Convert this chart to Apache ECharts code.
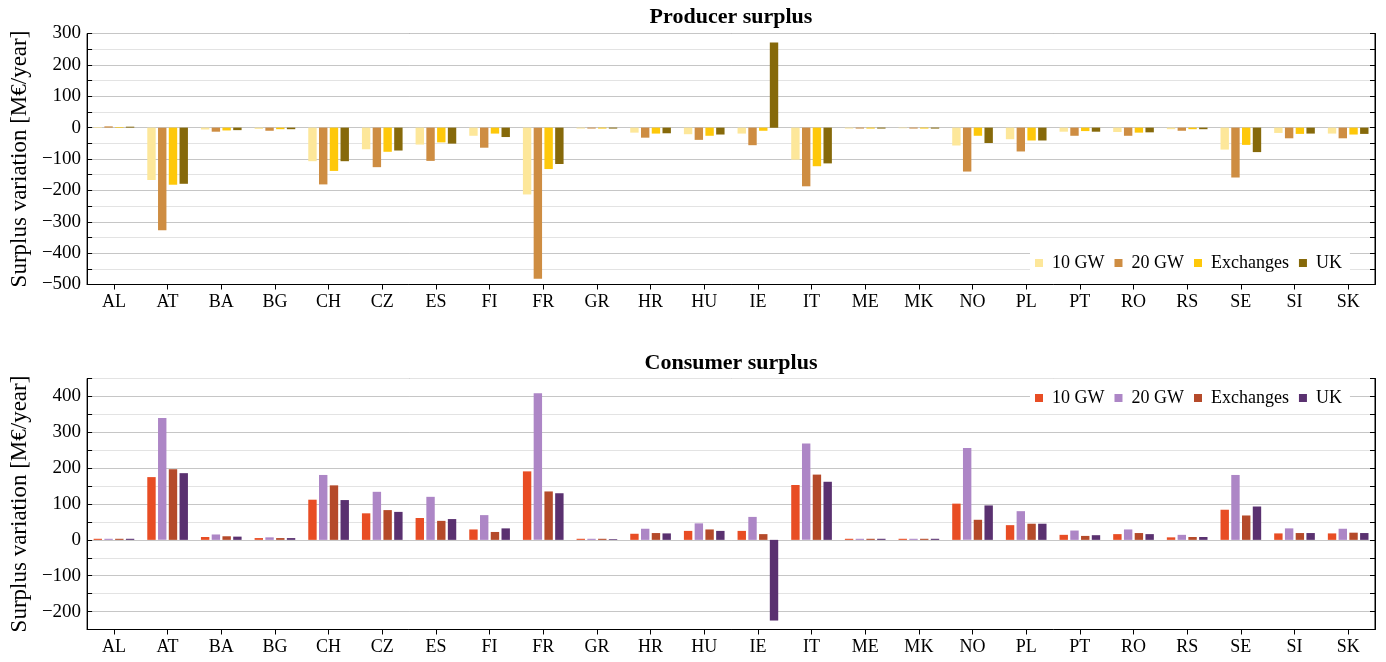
<!DOCTYPE html>
<html>
<head>
<meta charset="utf-8">
<title>Surplus variation</title>
<script src="https://cdn.jsdelivr.net/npm/echarts@6/dist/echarts.min.js"></script>
<style>
  html, body { margin: 0; padding: 0; background: #fff; }
  #chart { width: 1386px; height: 662px; }
</style>
</head>
<body>
<div id="chart"></div>
<script>
// Country codes along the horizontal axis
const countries = ['AL','AT','BA','BG','CH','CZ','ES','FI','FR','GR','HR','HU','IE','IT','ME','MK','NO','PL','PT','RO','RS','SE','SI','SK'];
const seriesNames = ['10 GW', '20 GW', 'Exchanges', 'UK'];

// Producer surplus variation [M€/year]
const producer10GW   = [2, -167, -6, -4, -107, -69, -54, -26, -213, -3, -16, -21, -19, -102, -3, -2, -57, -37, -13, -14, -5, -70, -17, -19];
const producer20GW   = [4, -327, -13, -10, -181, -126, -106, -64, -482, -3, -32, -39, -56, -187, -3, -3, -140, -76, -26, -26, -10, -159, -34, -34];
const producerExch   = [2, -182, -9, -5, -138, -77, -47, -19, -132, -3, -19, -26, -10, -123, -3, -3, -26, -41, -11, -16, -5, -55, -20, -22];
const producerUK     = [3, -179, -8, -5, -107, -73, -51, -30, -116, -3, -18, -22, 271, -114, -3, -3, -49, -41, -13, -15, -5, -78, -19, -20];

// Consumer surplus variation [M€/year]
const consumer10GW   = [3, 175, 8, 5, 112, 74, 61, 29, 191, 3, 17, 25, 25, 153, 3, 3, 101, 41, 14, 16, 7, 84, 18, 18];
const consumer20GW   = [3, 340, 15, 7, 181, 134, 120, 69, 409, 3, 31, 46, 64, 269, 3, 3, 256, 80, 26, 29, 14, 181, 32, 31];
const consumerExch   = [3, 197, 10, 5, 152, 83, 53, 22, 135, 3, 19, 29, 16, 182, 3, 3, 56, 45, 11, 19, 8, 68, 19, 20];
const consumerUK     = [3, 186, 9, 5, 111, 78, 58, 32, 130, 2, 18, 25, -225, 162, 3, 3, 96, 45, 13, 16, 8, 93, 19, 19];

// Axis ranges
const producerRange = { min: -500, max: 300 };
const consumerRange = { min: -250, max: 450 };

const producerColors = ['#FDE79A', '#CE8D42', '#FEC80A', '#86690A'];
const consumerColors = ['#E84D24', '#AD86C6', '#B54A2A', '#5A3170'];

const FONT = 'Liberation Serif';
const MAJOR = '#c6c6c6';
const MINOR = '#e3e3e3';

const chart = echarts.init(document.getElementById('chart'), null, { renderer: 'canvas' });

function fmtTick(v) {
  if (v % 100 !== 0) return '';
  return v < 0 ? '\u2212' + Math.abs(v) : String(v);
}

function yAxes(gridIndex, range) {
  // gridline colours alternate: hundreds darker, fifties lighter
  const firstIsMajor = range.min % 100 === 0;
  const colors = firstIsMajor ? [MAJOR, MINOR] : [MINOR, MAJOR];
  return [
    {
      type: 'value', gridIndex, position: 'left',
      min: range.min, max: range.max, interval: 50,
      name: 'Surplus variation [M\u20AC/year]',
      nameLocation: 'middle', nameGap: 56, nameRotate: 90,
      nameTextStyle: { fontFamily: FONT, fontSize: 23, color: '#000' },
      axisLine: { show: true, lineStyle: { color: '#000', width: 1 } },
      axisTick: { show: true, inside: true, length: 5, lineStyle: { color: '#000' } },
      axisLabel: { formatter: fmtTick, fontFamily: FONT, fontSize: 19, color: '#000', margin: 6 },
      splitLine: { show: true, lineStyle: { color: colors, width: 1 } }
    },
    {
      type: 'value', gridIndex, position: 'right',
      min: range.min, max: range.max, interval: 50,
      axisLine: { show: true, lineStyle: { color: '#000', width: 1 } },
      axisTick: { show: true, inside: true, length: 5, lineStyle: { color: '#000' } },
      axisLabel: { show: false },
      splitLine: { show: false }
    }
  ];
}

function xAxis(gridIndex) {
  return {
    type: 'category', gridIndex, data: countries,
    axisLine: { show: true, onZero: false, lineStyle: { color: '#000', width: 1 } },
    axisTick: { show: true, alignWithLabel: true, length: 5, lineStyle: { color: '#000' } },
    axisLabel: { fontFamily: FONT, fontSize: 18, color: '#000', margin: 9 },
    splitLine: { show: false }
  };
}

function bars(values, colors, xIdx, yIdx) {
  return values.map((vals, i) => ({
    name: seriesNames[i],
    type: 'bar',
    xAxisIndex: xIdx, yAxisIndex: yIdx,
    data: vals,
    barWidth: 8.4,
    barGap: '28%',
    itemStyle: { color: colors[i] },
    emphasis: { disabled: true },
    animation: false
  }));
}

function legend(top, colors) {
  return {
    left: 1030, top: top,
    orient: 'horizontal',
    backgroundColor: '#fff',
    padding: [1, 8, 1, 5],
    itemGap: 10,
    itemWidth: 8, itemHeight: 8,
    icon: 'rect',
    selectedMode: false,
    textStyle: { fontFamily: FONT, fontSize: 18, color: '#000', padding: [0, 0, 0, 4] },
    data: seriesNames.map((n, i) => ({ name: n, itemStyle: { color: colors[i] } }))
  };
}

const option = {
  backgroundColor: '#fff',
  animation: false,
  title: [
    { text: 'Producer surplus', left: 731, textAlign: 'center', top: 6, padding: 0,
      textStyle: { fontFamily: FONT, fontSize: 22, fontWeight: 'bold', color: '#000' } },
    { text: 'Consumer surplus', left: 731, textAlign: 'center', top: 352, padding: 0,
      textStyle: { fontFamily: FONT, fontSize: 22, fontWeight: 'bold', color: '#000' } }
  ],
  grid: [
    { left: 87, right: 11, top: 33.5, height: 251, show: true, borderColor: '#000', borderWidth: 1, backgroundColor: 'transparent' },
    { left: 87, right: 11, top: 378.5, height: 251, show: true, borderColor: '#000', borderWidth: 1, backgroundColor: 'transparent' }
  ],
  xAxis: [xAxis(0), xAxis(1)],
  yAxis: [...yAxes(0, producerRange), ...yAxes(1, consumerRange)],
  legend: [legend(253, producerColors), legend(388, consumerColors)],
  series: [
    ...bars([producer10GW, producer20GW, producerExch, producerUK], producerColors, 0, 0),
    ...bars([consumer10GW, consumer20GW, consumerExch, consumerUK], consumerColors, 1, 2)
  ]
};

chart.setOption(option);
</script>
</body>
</html>
